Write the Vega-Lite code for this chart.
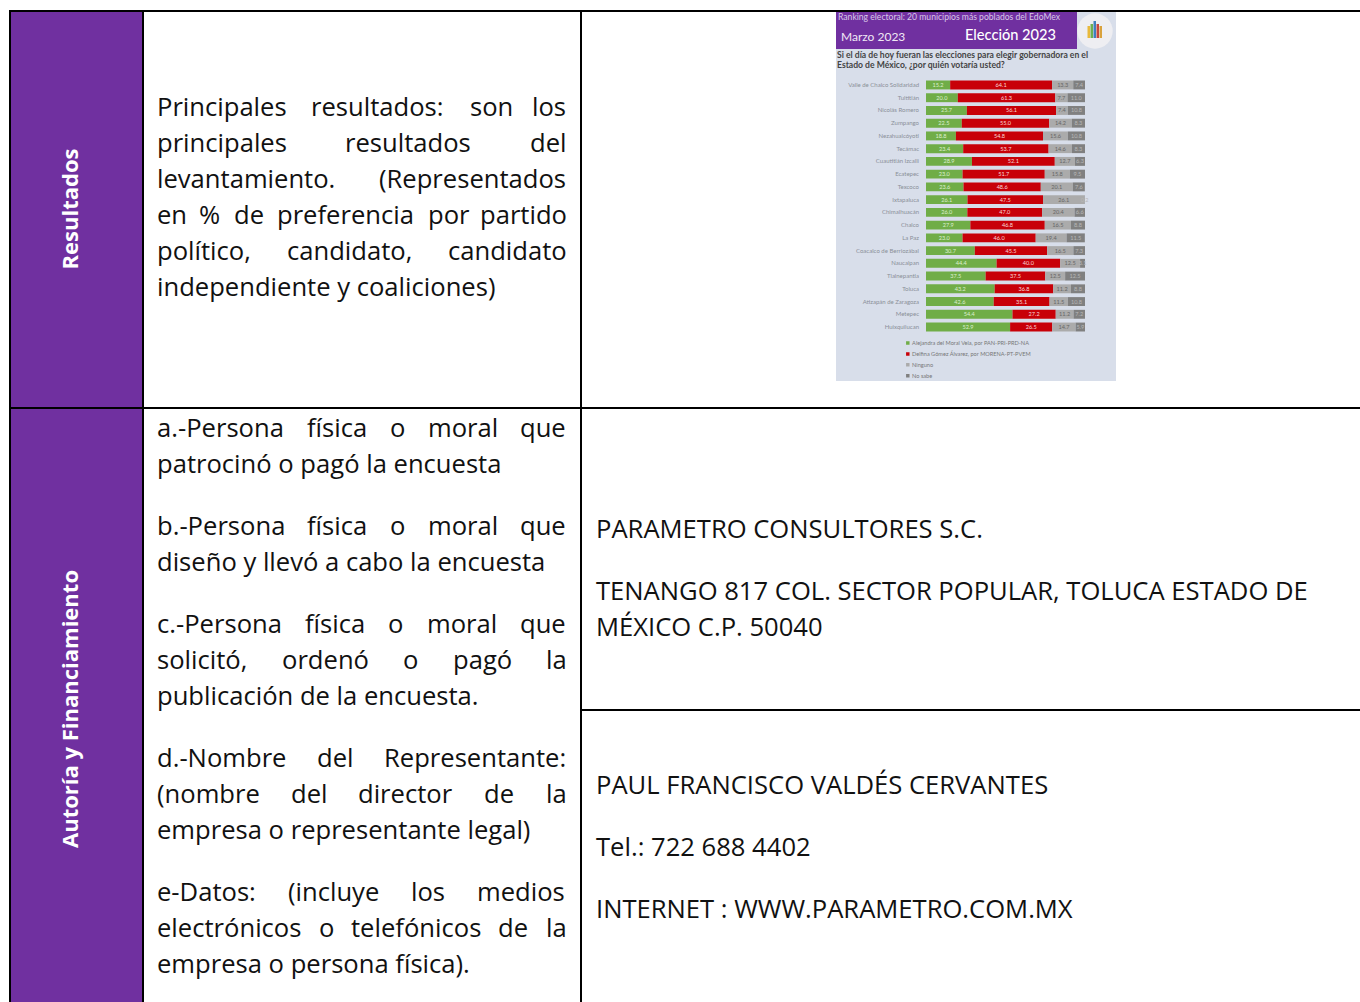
{
"$schema":"https://vega.github.io/schema/vega-lite/v6.json",
"width":1360,"height":1002,"autosize":{"type":"fit","contains":"padding"},"padding":0,"background":"#ffffff",
"config":{"view":{"stroke":null},"style":{"text":{"font":"Lato"}}},
"resolve":{"scale":{"x":"independent","y":"independent","color":"independent"}},
"datasets":{
"votos":[
{"municipio":"Valle de Chalco Solidaridad","opcion":"Alejandra del Moral Vela, por PAN-PRI-PRD-NA","orden":1,"pct":15.2},{"municipio":"Valle de Chalco Solidaridad","opcion":"Delfina Gómez Álvarez, por MORENA-PT-PVEM","orden":2,"pct":64.1},{"municipio":"Valle de Chalco Solidaridad","opcion":"Ninguno","orden":3,"pct":13.3},{"municipio":"Valle de Chalco Solidaridad","opcion":"No sabe","orden":4,"pct":7.4},
{"municipio":"Tultitlán","opcion":"Alejandra del Moral Vela, por PAN-PRI-PRD-NA","orden":1,"pct":20.0},{"municipio":"Tultitlán","opcion":"Delfina Gómez Álvarez, por MORENA-PT-PVEM","orden":2,"pct":61.3},{"municipio":"Tultitlán","opcion":"Ninguno","orden":3,"pct":7.7},{"municipio":"Tultitlán","opcion":"No sabe","orden":4,"pct":11.0},
{"municipio":"Nicolás Romero","opcion":"Alejandra del Moral Vela, por PAN-PRI-PRD-NA","orden":1,"pct":25.7},{"municipio":"Nicolás Romero","opcion":"Delfina Gómez Álvarez, por MORENA-PT-PVEM","orden":2,"pct":56.1},{"municipio":"Nicolás Romero","opcion":"Ninguno","orden":3,"pct":7.4},{"municipio":"Nicolás Romero","opcion":"No sabe","orden":4,"pct":10.8},
{"municipio":"Zumpango","opcion":"Alejandra del Moral Vela, por PAN-PRI-PRD-NA","orden":1,"pct":22.5},{"municipio":"Zumpango","opcion":"Delfina Gómez Álvarez, por MORENA-PT-PVEM","orden":2,"pct":55.0},{"municipio":"Zumpango","opcion":"Ninguno","orden":3,"pct":14.2},{"municipio":"Zumpango","opcion":"No sabe","orden":4,"pct":8.3},
{"municipio":"Nezahualcóyotl","opcion":"Alejandra del Moral Vela, por PAN-PRI-PRD-NA","orden":1,"pct":18.8},{"municipio":"Nezahualcóyotl","opcion":"Delfina Gómez Álvarez, por MORENA-PT-PVEM","orden":2,"pct":54.8},{"municipio":"Nezahualcóyotl","opcion":"Ninguno","orden":3,"pct":15.6},{"municipio":"Nezahualcóyotl","opcion":"No sabe","orden":4,"pct":10.8},
{"municipio":"Tecámac","opcion":"Alejandra del Moral Vela, por PAN-PRI-PRD-NA","orden":1,"pct":23.4},{"municipio":"Tecámac","opcion":"Delfina Gómez Álvarez, por MORENA-PT-PVEM","orden":2,"pct":53.7},{"municipio":"Tecámac","opcion":"Ninguno","orden":3,"pct":14.6},{"municipio":"Tecámac","opcion":"No sabe","orden":4,"pct":8.3},
{"municipio":"Cuautitlán Izcalli","opcion":"Alejandra del Moral Vela, por PAN-PRI-PRD-NA","orden":1,"pct":28.9},{"municipio":"Cuautitlán Izcalli","opcion":"Delfina Gómez Álvarez, por MORENA-PT-PVEM","orden":2,"pct":52.1},{"municipio":"Cuautitlán Izcalli","opcion":"Ninguno","orden":3,"pct":12.7},{"municipio":"Cuautitlán Izcalli","opcion":"No sabe","orden":4,"pct":6.3},
{"municipio":"Ecatepec","opcion":"Alejandra del Moral Vela, por PAN-PRI-PRD-NA","orden":1,"pct":23.0},{"municipio":"Ecatepec","opcion":"Delfina Gómez Álvarez, por MORENA-PT-PVEM","orden":2,"pct":51.7},{"municipio":"Ecatepec","opcion":"Ninguno","orden":3,"pct":15.8},{"municipio":"Ecatepec","opcion":"No sabe","orden":4,"pct":9.5},
{"municipio":"Texcoco","opcion":"Alejandra del Moral Vela, por PAN-PRI-PRD-NA","orden":1,"pct":23.6},{"municipio":"Texcoco","opcion":"Delfina Gómez Álvarez, por MORENA-PT-PVEM","orden":2,"pct":48.6},{"municipio":"Texcoco","opcion":"Ninguno","orden":3,"pct":20.1},{"municipio":"Texcoco","opcion":"No sabe","orden":4,"pct":7.6},
{"municipio":"Ixtapaluca","opcion":"Alejandra del Moral Vela, por PAN-PRI-PRD-NA","orden":1,"pct":26.1},{"municipio":"Ixtapaluca","opcion":"Delfina Gómez Álvarez, por MORENA-PT-PVEM","orden":2,"pct":47.5},{"municipio":"Ixtapaluca","opcion":"Ninguno","orden":3,"pct":26.1},{"municipio":"Ixtapaluca","opcion":"No sabe","orden":4,"pct":0.2},
{"municipio":"Chimalhuacán","opcion":"Alejandra del Moral Vela, por PAN-PRI-PRD-NA","orden":1,"pct":26.0},{"municipio":"Chimalhuacán","opcion":"Delfina Gómez Álvarez, por MORENA-PT-PVEM","orden":2,"pct":47.0},{"municipio":"Chimalhuacán","opcion":"Ninguno","orden":3,"pct":20.4},{"municipio":"Chimalhuacán","opcion":"No sabe","orden":4,"pct":6.6},
{"municipio":"Chalco","opcion":"Alejandra del Moral Vela, por PAN-PRI-PRD-NA","orden":1,"pct":27.9},{"municipio":"Chalco","opcion":"Delfina Gómez Álvarez, por MORENA-PT-PVEM","orden":2,"pct":46.8},{"municipio":"Chalco","opcion":"Ninguno","orden":3,"pct":16.5},{"municipio":"Chalco","opcion":"No sabe","orden":4,"pct":8.8},
{"municipio":"La Paz","opcion":"Alejandra del Moral Vela, por PAN-PRI-PRD-NA","orden":1,"pct":23.0},{"municipio":"La Paz","opcion":"Delfina Gómez Álvarez, por MORENA-PT-PVEM","orden":2,"pct":46.0},{"municipio":"La Paz","opcion":"Ninguno","orden":3,"pct":19.4},{"municipio":"La Paz","opcion":"No sabe","orden":4,"pct":11.5},
{"municipio":"Coacalco de Berriozábal","opcion":"Alejandra del Moral Vela, por PAN-PRI-PRD-NA","orden":1,"pct":30.7},{"municipio":"Coacalco de Berriozábal","opcion":"Delfina Gómez Álvarez, por MORENA-PT-PVEM","orden":2,"pct":45.5},{"municipio":"Coacalco de Berriozábal","opcion":"Ninguno","orden":3,"pct":16.5},{"municipio":"Coacalco de Berriozábal","opcion":"No sabe","orden":4,"pct":7.3},
{"municipio":"Naucalpan","opcion":"Alejandra del Moral Vela, por PAN-PRI-PRD-NA","orden":1,"pct":44.4},{"municipio":"Naucalpan","opcion":"Delfina Gómez Álvarez, por MORENA-PT-PVEM","orden":2,"pct":40.0},{"municipio":"Naucalpan","opcion":"Ninguno","orden":3,"pct":12.5},{"municipio":"Naucalpan","opcion":"No sabe","orden":4,"pct":3.1},
{"municipio":"Tlalnepantla","opcion":"Alejandra del Moral Vela, por PAN-PRI-PRD-NA","orden":1,"pct":37.5},{"municipio":"Tlalnepantla","opcion":"Delfina Gómez Álvarez, por MORENA-PT-PVEM","orden":2,"pct":37.5},{"municipio":"Tlalnepantla","opcion":"Ninguno","orden":3,"pct":12.5},{"municipio":"Tlalnepantla","opcion":"No sabe","orden":4,"pct":12.5},
{"municipio":"Toluca","opcion":"Alejandra del Moral Vela, por PAN-PRI-PRD-NA","orden":1,"pct":43.2},{"municipio":"Toluca","opcion":"Delfina Gómez Álvarez, por MORENA-PT-PVEM","orden":2,"pct":36.8},{"municipio":"Toluca","opcion":"Ninguno","orden":3,"pct":11.2},{"municipio":"Toluca","opcion":"No sabe","orden":4,"pct":8.8},
{"municipio":"Atizapán de Zaragoza","opcion":"Alejandra del Moral Vela, por PAN-PRI-PRD-NA","orden":1,"pct":42.6},{"municipio":"Atizapán de Zaragoza","opcion":"Delfina Gómez Álvarez, por MORENA-PT-PVEM","orden":2,"pct":35.1},{"municipio":"Atizapán de Zaragoza","opcion":"Ninguno","orden":3,"pct":11.5},{"municipio":"Atizapán de Zaragoza","opcion":"No sabe","orden":4,"pct":10.8},
{"municipio":"Metepec","opcion":"Alejandra del Moral Vela, por PAN-PRI-PRD-NA","orden":1,"pct":54.4},{"municipio":"Metepec","opcion":"Delfina Gómez Álvarez, por MORENA-PT-PVEM","orden":2,"pct":27.2},{"municipio":"Metepec","opcion":"Ninguno","orden":3,"pct":11.2},{"municipio":"Metepec","opcion":"No sabe","orden":4,"pct":7.2},
{"municipio":"Huixquilucan","opcion":"Alejandra del Moral Vela, por PAN-PRI-PRD-NA","orden":1,"pct":52.9},{"municipio":"Huixquilucan","opcion":"Delfina Gómez Álvarez, por MORENA-PT-PVEM","orden":2,"pct":26.5},{"municipio":"Huixquilucan","opcion":"Ninguno","orden":3,"pct":14.7},{"municipio":"Huixquilucan","opcion":"No sabe","orden":4,"pct":5.9}
],
"cuerpo":[
{"t":"Principales","x":157,"y":107},{"t":"resultados:","x":311,"y":107},{"t":"son","x":470,"y":107},{"t":"los","x":532,"y":107},
{"t":"principales","x":157,"y":143},{"t":"resultados","x":345,"y":143},{"t":"del","x":530,"y":143},
{"t":"levantamiento.","x":157,"y":179},{"t":"(Representados","x":379,"y":179},
{"t":"en","x":157,"y":215},{"t":"%","x":199,"y":215},{"t":"de","x":234,"y":215},{"t":"preferencia","x":277,"y":215},{"t":"por","x":428,"y":215},{"t":"partido","x":480,"y":215},
{"t":"político,","x":157,"y":251},{"t":"candidato,","x":287,"y":251},{"t":"candidato","x":448,"y":251},
{"t":"independiente y coaliciones)","x":157,"y":287},
{"t":"a.-Persona","x":157,"y":428},{"t":"física","x":307,"y":428},{"t":"o","x":390,"y":428},{"t":"moral","x":428,"y":428},{"t":"que","x":520,"y":428},
{"t":"patrocinó o pagó la encuesta","x":157,"y":464},
{"t":"b.-Persona","x":157,"y":526},{"t":"física","x":307,"y":526},{"t":"o","x":390,"y":526},{"t":"moral","x":428,"y":526},{"t":"que","x":520,"y":526},
{"t":"diseño y llevó a cabo la encuesta","x":157,"y":562},
{"t":"c.-Persona","x":157,"y":624},{"t":"física","x":305,"y":624},{"t":"o","x":388,"y":624},{"t":"moral","x":427,"y":624},{"t":"que","x":520,"y":624},
{"t":"solicitó,","x":157,"y":660},{"t":"ordenó","x":282,"y":660},{"t":"o","x":403,"y":660},{"t":"pagó","x":453,"y":660},{"t":"la","x":546,"y":660},
{"t":"publicación de la encuesta.","x":157,"y":696},
{"t":"d.-Nombre","x":157,"y":758},{"t":"del","x":317,"y":758},{"t":"Representante:","x":384,"y":758},
{"t":"(nombre","x":157,"y":794},{"t":"del","x":291,"y":794},{"t":"director","x":358,"y":794},{"t":"de","x":484,"y":794},{"t":"la","x":546,"y":794},
{"t":"empresa o representante legal)","x":157,"y":830},
{"t":"e-Datos:","x":157,"y":892},{"t":"(incluye","x":288,"y":892},{"t":"los","x":411,"y":892},{"t":"medios","x":477,"y":892},
{"t":"electrónicos","x":157,"y":928},{"t":"o","x":319,"y":928},{"t":"telefónicos","x":351,"y":928},{"t":"de","x":498,"y":928},{"t":"la","x":546,"y":928},
{"t":"empresa o persona física).","x":157,"y":964},
{"t":"PARAMETRO CONSULTORES S.C.","x":596,"y":529},
{"t":"TENANGO 817 COL. SECTOR POPULAR, TOLUCA ESTADO DE","x":596,"y":591},
{"t":"MÉXICO C.P. 50040","x":596,"y":627},
{"t":"PAUL FRANCISCO VALDÉS CERVANTES","x":596,"y":785},
{"t":"Tel.: 722 688 4402","x":596,"y":847},
{"t":"INTERNET : WWW.PARAMETRO.COM.MX","x":596,"y":909}
],
"lineasH":[{"x":10,"x2":1360,"y":11},{"x":10,"x2":1360,"y":408},{"x":581,"x2":1360,"y":710}],
"lineasV":[{"x":10,"y":10,"y2":1002},{"x":143,"y":10,"y2":1002},{"x":581,"y":10,"y2":1002}],
"logo":[
{"barra":"a","x":1087.5,"x2":1090,"y":26,"y2":38},{"barra":"b","x":1090.5,"x2":1093,"y":24,"y2":38},{"barra":"c","x":1093.5,"x2":1096,"y":21,"y2":38},{"barra":"d","x":1096.5,"x2":1099,"y":24,"y2":38},{"barra":"e","x":1099.5,"x2":1102,"y":26,"y2":38}
]
},
"layer":[
{"data":{"values":[{"x":11,"x2":143,"y":12,"y2":1002}]},"mark":{"type":"rect","color":"#7030A0"},
 "encoding":{"x":{"field":"x","type":"quantitative","axis":null,"scale":{"domain":[0,1360],"range":[0,1360],"nice":false,"zero":false}},"x2":{"field":"x2"},"y":{"field":"y","type":"quantitative","axis":null,"scale":{"domain":[0,1002],"range":[0,1002],"nice":false,"zero":false}},"y2":{"field":"y2"}}},
{"data":{"values":[{"x":836,"x2":1116,"y":12,"y2":381}]},"mark":{"type":"rect","color":"#D8DEEA"},
 "encoding":{"x":{"field":"x","type":"quantitative","axis":null,"scale":{"domain":[0,1360],"range":[0,1360],"nice":false,"zero":false}},"x2":{"field":"x2"},"y":{"field":"y","type":"quantitative","axis":null,"scale":{"domain":[0,1002],"range":[0,1002],"nice":false,"zero":false}},"y2":{"field":"y2"}}},
{"data":{"values":[{"x":836,"x2":1077,"y":12,"y2":49}]},"mark":{"type":"rect","color":"#7030A0"},
 "encoding":{"x":{"field":"x","type":"quantitative","axis":null,"scale":{"domain":[0,1360],"range":[0,1360],"nice":false,"zero":false}},"x2":{"field":"x2"},"y":{"field":"y","type":"quantitative","axis":null,"scale":{"domain":[0,1002],"range":[0,1002],"nice":false,"zero":false}},"y2":{"field":"y2"}}},
{"data":{"values":[{"x":1095,"y":31}]},"mark":{"type":"point","filled":true,"size":1250,"color":"#EEEEF2","opacity":1},
 "encoding":{"x":{"field":"x","type":"quantitative","axis":null,"scale":{"domain":[0,1360],"range":[0,1360],"nice":false,"zero":false}},"y":{"field":"y","type":"quantitative","axis":null,"scale":{"domain":[0,1002],"range":[0,1002],"nice":false,"zero":false}}}},
{"data":{"name":"logo"},"mark":{"type":"rect"},
 "encoding":{"x":{"field":"x","type":"quantitative","axis":null,"scale":{"domain":[0,1360],"range":[0,1360],"nice":false,"zero":false}},"x2":{"field":"x2"},"y":{"field":"y","type":"quantitative","axis":null,"scale":{"domain":[0,1002],"range":[0,1002],"nice":false,"zero":false}},"y2":{"field":"y2"},
 "color":{"field":"barra","type":"nominal","legend":null,"scale":{"domain":["a","b","c","d","e"],"range":["#E8B93C","#6FAF50","#3F7FBF","#C8463C","#D9A23C"]}}}},
{"data":{"name":"lineasH"},"mark":{"type":"rule","color":"#000000","strokeWidth":2},
 "encoding":{"x":{"field":"x","type":"quantitative","axis":null,"scale":{"domain":[0,1360],"range":[0,1360],"nice":false,"zero":false}},"x2":{"field":"x2"},"y":{"field":"y","type":"quantitative","axis":null,"scale":{"domain":[0,1002],"range":[0,1002],"nice":false,"zero":false}}}},
{"data":{"name":"lineasV"},"mark":{"type":"rule","color":"#000000","strokeWidth":2},
 "encoding":{"x":{"field":"x","type":"quantitative","axis":null,"scale":{"domain":[0,1360],"range":[0,1360],"nice":false,"zero":false}},"y":{"field":"y","type":"quantitative","axis":null,"scale":{"domain":[0,1002],"range":[0,1002],"nice":false,"zero":false}},"y2":{"field":"y2"}}},
{"data":{"name":"cuerpo"},"mark":{"type":"text","align":"left","baseline":"middle","font":"Open Sans","fontSize":25.6,"dy":0.5,"color":"#111111"},
 "encoding":{"x":{"field":"x","type":"quantitative","axis":null,"scale":{"domain":[0,1360],"range":[0,1360],"nice":false,"zero":false}},"y":{"field":"y","type":"quantitative","axis":null,"scale":{"domain":[0,1002],"range":[0,1002],"nice":false,"zero":false}},"text":{"field":"t"}}},
{"data":{"values":[{"t":"Resultados","x":71,"y":209},{"t":"Autoría y Financiamiento","x":71,"y":709}]},"mark":{"type":"text","align":"center","baseline":"middle","font":"Open Sans","fontWeight":"bold","fontSize":22,"angle":270,"color":"#ffffff"},
 "encoding":{"x":{"field":"x","type":"quantitative","axis":null,"scale":{"domain":[0,1360],"range":[0,1360],"nice":false,"zero":false}},"y":{"field":"y","type":"quantitative","axis":null,"scale":{"domain":[0,1002],"range":[0,1002],"nice":false,"zero":false}},"text":{"field":"t"}}},
{"data":{"values":[{"t":"Ranking electoral: 20 municipios más poblados del EdoMex","x":838,"y":17}]},"mark":{"type":"text","align":"left","baseline":"middle","font":"Lato","fontSize":8.6,"color":"#D9C8E8"},
 "encoding":{"x":{"field":"x","type":"quantitative","axis":null,"scale":{"domain":[0,1360],"range":[0,1360],"nice":false,"zero":false}},"y":{"field":"y","type":"quantitative","axis":null,"scale":{"domain":[0,1002],"range":[0,1002],"nice":false,"zero":false}},"text":{"field":"t"}}},
{"data":{"values":[{"t":"Marzo 2023","x":841,"y":37}]},"mark":{"type":"text","align":"left","baseline":"middle","font":"Lato","fontSize":12,"color":"#F0E8F5"},
 "encoding":{"x":{"field":"x","type":"quantitative","axis":null,"scale":{"domain":[0,1360],"range":[0,1360],"nice":false,"zero":false}},"y":{"field":"y","type":"quantitative","axis":null,"scale":{"domain":[0,1002],"range":[0,1002],"nice":false,"zero":false}},"text":{"field":"t"}}},
{"data":{"values":[{"t":"Elección 2023","x":965,"y":36}]},"mark":{"type":"text","align":"left","baseline":"middle","font":"Lato","fontSize":14.6,"fontWeight":500,"color":"#ffffff"},
 "encoding":{"x":{"field":"x","type":"quantitative","axis":null,"scale":{"domain":[0,1360],"range":[0,1360],"nice":false,"zero":false}},"y":{"field":"y","type":"quantitative","axis":null,"scale":{"domain":[0,1002],"range":[0,1002],"nice":false,"zero":false}},"text":{"field":"t"}}},
{"data":{"values":[{"t":"Si el día de hoy fueran las elecciones para elegir gobernadora en el","x":837,"y":55},{"t":"Estado de México, ¿por quién votaría usted?","x":837,"y":65}]},"mark":{"type":"text","align":"left","baseline":"middle","font":"Lato","fontSize":8.6,"fontWeight":"bold","color":"#444444"},
 "encoding":{"x":{"field":"x","type":"quantitative","axis":null,"scale":{"domain":[0,1360],"range":[0,1360],"nice":false,"zero":false}},"y":{"field":"y","type":"quantitative","axis":null,"scale":{"domain":[0,1002],"range":[0,1002],"nice":false,"zero":false}},"text":{"field":"t"}}},
{"data":{"name":"votos"},"mark":{"type":"bar"},
 "encoding":{
 "y":{"field":"municipio","type":"nominal","sort":null,"axis":null,"scale":{"range":[78.6,333.4],"paddingInner":0.3,"paddingOuter":0.15}},
 "x":{"field":"pct","type":"quantitative","stack":"zero","axis":null,"scale":{"domain":[0,100],"range":[926,1085],"nice":false,"zero":false}},
 "order":{"field":"orden","type":"ordinal"},
 "color":{"field":"opcion","type":"nominal","scale":{"domain":["Alejandra del Moral Vela, por PAN-PRI-PRD-NA","Delfina Gómez Álvarez, por MORENA-PT-PVEM","Ninguno","No sabe"],"range":["#70AD47","#C80008","#ABABAB","#808080"]},
  "legend":{"title":null,"orient":"none","legendX":905,"legendY":340,"symbolType":"square","symbolSize":12,"labelFontSize":5.6,"labelFont":"Lato","labelColor":"#777777","rowPadding":3.9,"clipHeight":6,"labelOffset":1.5,"symbolStrokeWidth":0,"padding":0,"labelLimit":200}}
 }},
{"data":{"name":"votos"},"mark":{"type":"text","align":"center","baseline":"middle","font":"Lato","fontSize":5.6},
 "encoding":{
 "y":{"field":"municipio","type":"nominal","sort":null,"axis":null,"scale":{"range":[78.6,333.4],"paddingInner":0.3,"paddingOuter":0.15}},
 "x":{"field":"pct","type":"quantitative","stack":"zero","bandPosition":0.5,"axis":null,"scale":{"domain":[0,100],"range":[926,1085],"nice":false,"zero":false}},
 "order":{"field":"orden","type":"ordinal"},
 "text":{"field":"pct","type":"quantitative","format":".1f"},
 "color":{"field":"opcion","type":"nominal","legend":null,"scale":{"domain":["Alejandra del Moral Vela, por PAN-PRI-PRD-NA","Delfina Gómez Álvarez, por MORENA-PT-PVEM","Ninguno","No sabe"],"range":["#DDEFD0","#F8D8D8","#666666","#B8B8B8"]}}
 }},
{"data":{"name":"votos"},"transform":[{"filter":"datum.orden == 1"}],"mark":{"type":"text","align":"right","baseline":"middle","font":"Lato","fontSize":6,"dx":-7,"color":"#8A8F98"},
 "encoding":{
 "y":{"field":"municipio","type":"nominal","sort":null,"axis":null,"scale":{"range":[78.6,333.4],"paddingInner":0.3,"paddingOuter":0.15}},
 "x":{"datum":0,"type":"quantitative","axis":null,"scale":{"domain":[0,100],"range":[926,1085],"nice":false,"zero":false}},
 "text":{"field":"municipio"}
 }}
]
}
